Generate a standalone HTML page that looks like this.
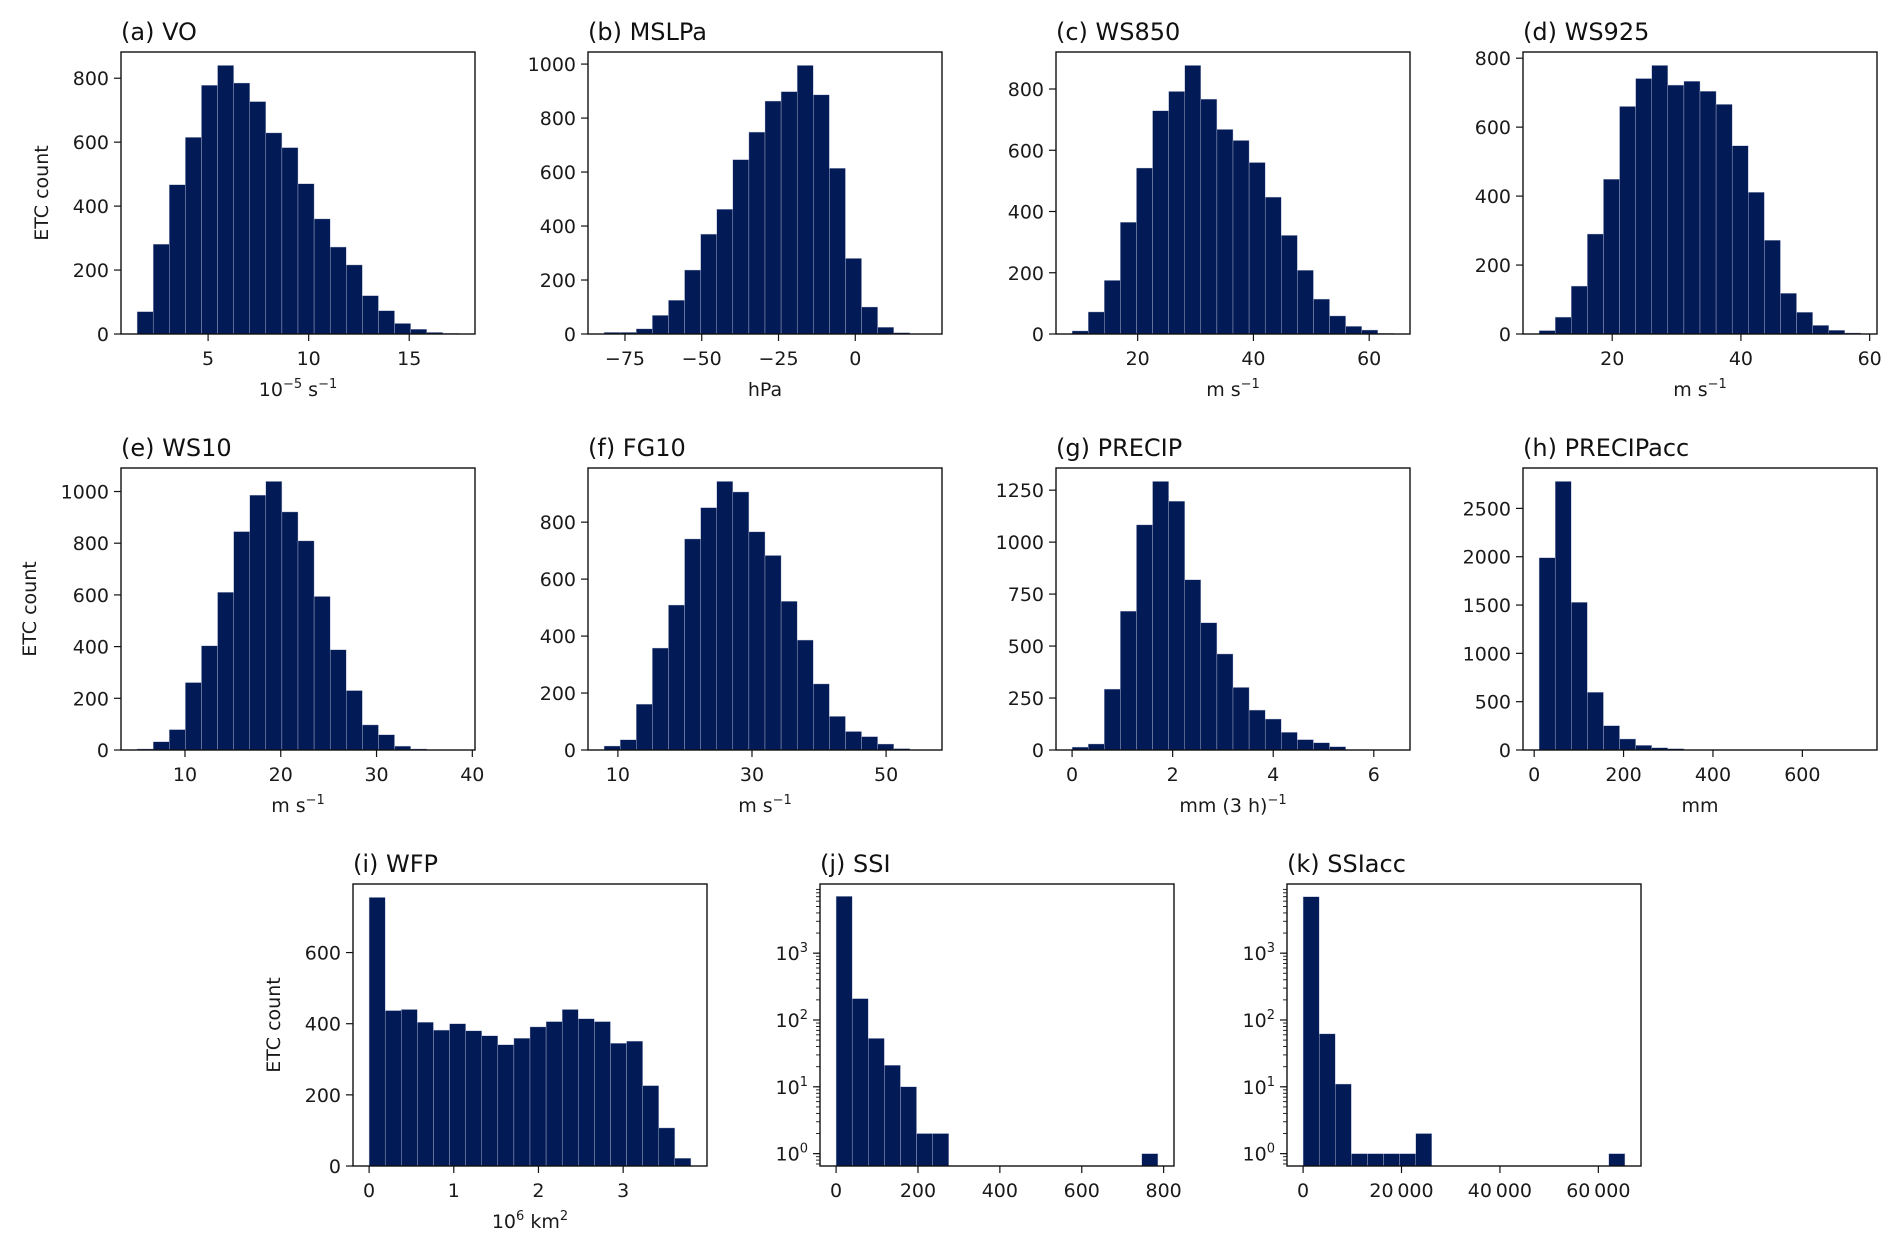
<!DOCTYPE html>
<html>
<head>
<meta charset="utf-8">
<style>
  html,body{margin:0;padding:0;background:#fff;}
  svg{display:block;font-family:"DejaVu Sans","Liberation Sans",sans-serif;}
</style>
</head>
<body>
<svg id="fig" width="1892" height="1248" viewBox="0 0 1892 1248" xmlns="http://www.w3.org/2000/svg"></svg>
<script>
// ---- data arrays (bin start, bin width, counts) ----
const voBins = [1.47, 0.80];
const voCounts = [70,281,467,615,778,840,785,727,629,583,470,360,272,216,120,73,33,15,5,2];
const mslpBins = [-81.8, 5.24];
const mslpCounts = [6,6,19,69,125,237,370,462,646,748,863,898,995,886,614,280,100,25,5,1];
const ws850Bins = [8.67, 2.78];
const ws850Counts = [10,72,175,365,542,729,792,877,767,668,632,560,447,322,208,114,59,25,13,2];
const ws925Bins = [8.64, 2.5];
const ws925Counts = [10,49,139,290,449,660,741,779,722,733,704,666,546,411,272,118,63,25,11,3];
const ws10Bins = [5.0, 1.68];
const ws10Counts = [4,32,79,261,403,610,845,986,1039,921,809,594,388,230,97,59,15,4,1,1];
const fg10Bins = [7.94, 2.4];
const fg10Counts = [14,36,161,358,509,741,851,943,906,766,683,522,386,232,118,65,47,21,5,1];
const precipBins = [0.0, 0.32];
const precipCounts = [14,29,293,668,1083,1292,1197,819,612,462,301,192,149,85,50,35,16,2,1,1];
const precipAccBins = [11, 36];
const precipAccCounts = [1990,2779,1528,597,252,114,48,24,14,3,2,1,1,0,0,1,0,0,0,1];
const wfpBins = [0.0, 0.19];
const wfpCounts = [755,437,440,404,382,400,380,366,341,359,391,406,440,414,406,345,351,226,107,22];
const ssiBins = [0, 39.3];
const ssiCounts = [7080,209,53,21,10,2,2,0,0,0,0,0,0,0,0,0,0,0,0,1];
const ssiAccBins = [0, 3270];
const ssiAccCounts = [7000,62,11,1,1,1,1,2,0,0,0,0,0,0,0,0,0,0,0,1];

// ---- tick labels ----
const voXTicks = [5,10,15];           const countTicks800 = [0,200,400,600,800];
const mslpXTicks = [-75,-50,-25,0];   const countTicks1000 = [0,200,400,600,800,1000];
const ws850XTicks = [20,40,60];
const ws925XTicks = [20,40,60];
const ws10XTicks = [10,20,30,40];
const fg10XTicks = [10,30,50];
const precipXTicks = [0,2,4,6];       const precipYTicks = [0,250,500,750,1000,1250];
const precipAccXTicks = [0,200,400,600]; const precipAccYTicks = [0,500,1000,1500,2000,2500];
const wfpXTicks = [0,1,2,3];          const wfpYTicks = [0,200,400,600];
const ssiXTicks = [0,200,400,600,800];
const ssiAccXTicks = [0,20000,40000,60000];
const logMajorExps = [0,1,2,3];

const NS = "http://www.w3.org/2000/svg";
const svg = document.getElementById('fig');
const BAR = "#021a56";
const FS = 19;

function mk(tag, attrs, parent){
  const e = document.createElementNS(NS, tag);
  for (const k in attrs) e.setAttribute(k, attrs[k]);
  (parent||svg).appendChild(e);
  return e;
}
function fmtNum(v){
  let s = Math.abs(v) >= 10000 ? String(Math.abs(v)).replace(/\B(?=(\d{3})+(?!\d))/g, "\u2009") : String(Math.abs(v));
  return (v < 0 ? "\u2212" : "") + s;
}

const panels = [
  {id:'vo', title:'(a) VO', L:121,T:52, bins:voBins, counts:voCounts, xt:voXTicks, yt:countTicks800, xl:[['10'],['\u22125','sup'],[' s'],['\u22121','sup']], yl:true},
  {id:'mslpa', title:'(b) MSLPa', L:588,T:52, bins:mslpBins, counts:mslpCounts, xt:mslpXTicks, yt:countTicks1000, xl:[['hPa']]},
  {id:'ws850', title:'(c) WS850', L:1056,T:52, bins:ws850Bins, counts:ws850Counts, xt:ws850XTicks, yt:countTicks800, xl:[['m s'],['\u22121','sup']]},
  {id:'ws925', title:'(d) WS925', L:1523,T:52, bins:ws925Bins, counts:ws925Counts, xt:ws925XTicks, yt:countTicks800, xl:[['m s'],['\u22121','sup']]},
  {id:'ws10', title:'(e) WS10', L:121,T:468, bins:ws10Bins, counts:ws10Counts, xt:ws10XTicks, yt:countTicks1000, xl:[['m s'],['\u22121','sup']], yl:true},
  {id:'fg10', title:'(f) FG10', L:588,T:468, bins:fg10Bins, counts:fg10Counts, xt:fg10XTicks, yt:countTicks800, xl:[['m s'],['\u22121','sup']]},
  {id:'precip', title:'(g) PRECIP', L:1056,T:468, bins:precipBins, counts:precipCounts, xt:precipXTicks, yt:precipYTicks, xl:[['mm (3 h)'],['\u22121','sup']]},
  {id:'precipacc', title:'(h) PRECIPacc', L:1523,T:468, bins:precipAccBins, counts:precipAccCounts, xt:precipAccXTicks, yt:precipAccYTicks, xl:[['mm']]},
  {id:'wfp', title:'(i) WFP', L:353,T:884, bins:wfpBins, counts:wfpCounts, xt:wfpXTicks, yt:wfpYTicks, xl:[['10'],['6','sup'],[' km'],['2','sup']], yl:true},
  {id:'ssi', title:'(j) SSI', L:820,T:884, bins:ssiBins, counts:ssiCounts, xt:ssiXTicks, log:true, xl:[]},
  {id:'ssiacc', title:'(k) SSIacc', L:1287,T:884, bins:ssiAccBins, counts:ssiAccCounts, xt:ssiAccXTicks, log:true, xl:[]}
];

const W = 354, H = 282;

panels.forEach(p => {
  const g = mk('g', {});
  
  
  const n = p.counts.length;
  const x0 = p.bins[0], bw = p.bins[1], x1 = x0 + n*bw;
  const xmin = x0 - 0.05*(x1-x0), xmax = x1 + 0.05*(x1-x0);
  const L = p.L, T = p.T, B = T + H, R = L + W;
  const xs = v => L + (v - xmin)/(xmax - xmin)*W;
  let ys;
  if (p.log){
    const lmin = Math.log10(0.653), lmax = Math.log10(10840);
    ys = v => B - (Math.log10(Math.max(v,1e-9)) - lmin)/(lmax - lmin)*H;
  } else {
    const ymax = Math.max(...p.counts)*1.05;
    ys = v => B - v/ymax*H;
  }
  p.counts.forEach((c,i) => {
    if (c <= 0) return;
    const xa = xs(x0 + i*bw), xb = xs(x0 + (i+1)*bw);
    const yt = Math.max(T, ys(c));
    const r = mk('rect', {x:xa, y:yt, width:xb-xa, height:B-yt, fill:BAR, stroke:'#b9bfd6', 'stroke-width':0.4}, g);
    
    
  });
  const fr = mk('rect', {x:L, y:T, width:W, height:H, fill:'none', stroke:'#111', 'stroke-width':1.4}, g);
  
  
  p.xt.forEach(v => {
    const x = xs(v);
    mk('line', {x1:x, y1:B, x2:x, y2:B+7, stroke:'#111', 'stroke-width':1.2}, g);
    const t = mk('text', {x:x, y:B+31, 'font-size':FS, 'text-anchor':'middle', fill:'#1a1a1a'}, g);
    t.textContent = fmtNum(v);
    
    
  });
  let maxw = 0;
  if (p.log){
    const lmin = 0.653, lmax = 10840;
    for (let d = 0; d <= 4; d++){
      for (let m = 1; m <= 9; m++){
        const v = m*Math.pow(10,d-1);
        if (v < lmin || v > lmax) continue;
        const y = ys(v);
        mk('line', {x1:L, y1:y, x2:L-4, y2:y, stroke:'#111', 'stroke-width':0.9}, g);
      }
    }
    logMajorExps.forEach(e => {
      const y = ys(Math.pow(10,e));
      mk('line', {x1:L, y1:y, x2:L-7, y2:y, stroke:'#111', 'stroke-width':1.2}, g);
      const t = mk('text', {x:L-12, y:y+7, 'font-size':FS, 'text-anchor':'end', fill:'#1a1a1a'}, g);
      
      
      const a = mk('tspan', {}, t); a.textContent = '10';
      const b = mk('tspan', {dy:-8, 'font-size':13}, t); b.textContent = String(e);
    });
  } else {
    p.yt.forEach(v => {
      const y = ys(v);
      mk('line', {x1:L, y1:y, x2:L-7, y2:y, stroke:'#111', 'stroke-width':1.2}, g);
      const t = mk('text', {x:L-12, y:y+7, 'font-size':FS, 'text-anchor':'end', fill:'#1a1a1a'}, g);
      t.textContent = fmtNum(v);
      
      
      maxw = Math.max(maxw, String(v).length*12);
    });
  }
  const tt = mk('text', {x:L, y:T-12, 'font-size':24, fill:'#111'}, g);
  tt.textContent = p.title;
  
  
  if (p.xl.length){
    const xl = mk('text', {x:(L+R)/2, y:B+62, 'font-size':FS, 'text-anchor':'middle', fill:'#1a1a1a'}, g);
    
    
    let up = false;
    p.xl.forEach(part => {
      const s = mk('tspan', {}, xl);
      if (part[1] === 'sup'){ s.setAttribute('dy', up ? 0 : -8); s.setAttribute('font-size', 13); up = true; }
      else if (up){ s.setAttribute('dy', 8); up = false; }
      s.textContent = part[0];
    });
  }
  if (p.yl){
    const cx = L - 12 - maxw - 31, cy = (T+B)/2;
    const yl = mk('text', {x:cx, y:cy, 'font-size':FS, 'text-anchor':'middle', 'dominant-baseline':'central', fill:'#1a1a1a', transform:'rotate(-90 '+cx+' '+cy+')'}, g);
    yl.textContent = 'ETC count';
    
    
  }
});
</script>
</body>
</html>
